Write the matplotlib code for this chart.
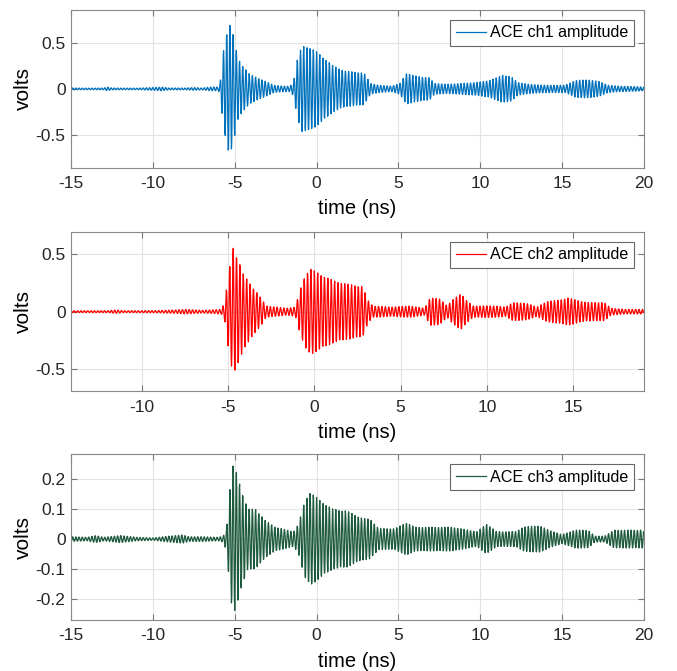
import numpy as np
import matplotlib
matplotlib.use('Agg')
import matplotlib.pyplot as plt

plt.rcParams['font.family'] = ['Liberation Sans', 'DejaVu Sans']
plt.rcParams['axes.unicode_minus'] = False

# envelope of each trace (time in ns, peak volts)
t1 = [-15, -14, -13, -12.8, -12.5, -11, -10, -9.5, -9, -8, -7.5, -7, -6.5, -6.0, -5.9, -5.7, -5.5, -5.35,
      -5.15, -5.0, -4.8, -4.5, -4.1, -3.6, -3.1, -2.6, -2.0, -1.6, -1.4, -1.2, -0.9, -0.5, 0.0, 0.5, 1.0,
      1.8, 2.6, 2.9, 3.3, 3.8, 4.6, 5.1, 5.5, 6.0, 6.9, 7.2, 8.0, 8.9, 9.8, 10.5, 11.0, 11.4, 11.9, 12.3,
      13, 14, 15.2, 15.8, 16.5, 17.3, 17.8, 18.5, 19.5, 20]
a1 = [0.01, 0.008, 0.01, 0.02, 0.01, 0.008, 0.015, 0.02, 0.01, 0.01, 0.015, 0.01, 0.02, 0.02, 0.06, 0.4, 0.6,
      0.72, 0.63, 0.5, 0.33, 0.25, 0.16, 0.12, 0.08, 0.04, 0.03, 0.03, 0.08, 0.3, 0.46, 0.46, 0.4, 0.33,
      0.25, 0.19, 0.18, 0.17, 0.06, 0.04, 0.03, 0.06, 0.17, 0.14, 0.12, 0.06, 0.05, 0.06, 0.07, 0.09, 0.12,
      0.15, 0.13, 0.07, 0.05, 0.04, 0.04, 0.09, 0.1, 0.08, 0.04, 0.03, 0.025, 0.02]

t2 = [-14.1, -12, -11.5, -11, -9, -8, -7.5, -6.5, -6, -5.4, -5.2, -4.95, -4.7, -4.4, -4.1, -3.5, -3.0,
      -2.8, -2.2, -1.6, -1.1, -0.8, -0.5, -0.2, 0.3, 1.1, 1.9, 2.8, 3.1, 3.4, 4.5, 5.5, 6.4, 6.7, 7.3,
      7.7, 8.0, 8.5, 8.8, 9.2, 10.5, 11.1, 11.5, 12.4, 12.9, 13.5, 14.2, 14.7, 15.2, 15.8, 16.8, 17.2,
      18, 19.1]
a2 = [0.008, 0.008, 0.015, 0.008, 0.01, 0.015, 0.02, 0.012, 0.015, 0.02, 0.08, 0.35, 0.56, 0.45, 0.32, 0.2,
      0.1, 0.05, 0.04, 0.03, 0.04, 0.2, 0.33, 0.37, 0.33, 0.27, 0.24, 0.22, 0.1, 0.05, 0.04, 0.05, 0.03,
      0.12, 0.11, 0.05, 0.1, 0.16, 0.1, 0.05, 0.05, 0.04, 0.08, 0.07, 0.04, 0.09, 0.1, 0.12, 0.1, 0.08,
      0.08, 0.03, 0.02, 0.02]

t3 = [-15, -14, -13.5, -13, -12, -11, -10, -9, -8.2, -7.8, -7, -6, -5.7, -5.5, -5.25, -5.08, -4.88, -4.5,
      -4.2, -3.7, -3.1, -2.5, -1.8, -1.4, -1.1, -0.7, -0.4, 0.2, 1.0, 1.8, 2.8, 3.3, 3.8, 4.8, 5.5, 6.0,
      7.0, 8.3, 9.3, 9.8, 10.4, 11.0, 12.2, 12.6, 13.6, 14.2, 15.0, 15.8, 16.6, 17.0, 17.6, 18.2, 19.0,
      19.8, 20]
a3 = [0.008, 0.006, 0.012, 0.006, 0.012, 0.006, 0.004, 0.01, 0.014, 0.008, 0.008, 0.006, 0.01, 0.04, 0.2,
      0.25, 0.22, 0.15, 0.1, 0.1, 0.06, 0.04, 0.03, 0.025, 0.05, 0.13, 0.157, 0.13, 0.1, 0.095, 0.07,
      0.066, 0.035, 0.035, 0.055, 0.04, 0.04, 0.04, 0.03, 0.025, 0.05, 0.025, 0.025, 0.04, 0.045, 0.03,
      0.015, 0.03, 0.03, 0.01, 0.01, 0.03, 0.03, 0.03, 0.03]

carrier_ghz = 5.1  # oscillation rate seen in the bursts

labels = ['ACE ch1 amplitude', 'ACE ch2 amplitude', 'ACE ch3 amplitude']
colors = ['#0072BD', '#FF0000', '#1E5A3E']
xlims = [(-15, 20), (-14.1, 19.1), (-15, 20)]
ylims = [(-0.85, 0.85), (-0.69, 0.69), (-0.27, 0.283)]
yticks = [[-0.5, 0, 0.5], [-0.5, 0, 0.5], [-0.2, -0.1, 0, 0.1, 0.2]]
boxes = [[0.105, 0.750, 0.846, 0.235], [0.105, 0.417, 0.846, 0.237], [0.105, 0.076, 0.846, 0.247]]

fig = plt.figure(figsize=(6.77, 6.71), dpi=100)
for i, (tt, aa) in enumerate([(t1, a1), (t2, a2), (t3, a3)]):
    ax = fig.add_axes(boxes[i])
    t = np.arange(tt[0], tt[-1], 0.02)
    v = np.interp(t, tt, aa) * np.cos(2 * np.pi * carrier_ghz * t)
    ax.plot(t, v, color=colors[i], lw=0.9, label=labels[i])
    ax.set_xlim(xlims[i])
    ax.set_ylim(ylims[i])
    ax.set_yticks(yticks[i])
    ax.set_yticklabels(['%g' % y for y in yticks[i]])
    ax.grid(True, color='#e3e3e3', lw=0.8)
    ax.set_axisbelow(True)
    ax.tick_params(direction='in', top=True, right=True, labelsize=12.5, labelcolor='#262626',
                   color='#777777', length=4)
    ax.tick_params(axis='x', pad=6)
    ax.tick_params(axis='y', pad=4)
    for s in ax.spines.values():
        s.set_color('#888888')
    ax.set_xlabel('time (ns)', fontsize=14.5, labelpad=6)
    ax.set_ylabel('volts', fontsize=15)
    ax.yaxis.set_label_coords(-0.066, 0.5)
    leg = ax.legend(loc='upper right', fontsize=11.6, fancybox=False, framealpha=1,
                    edgecolor='#666666', handlelength=1.9, handletextpad=0.25,
                    borderpad=0.35, borderaxespad=0.6)
    leg.get_frame().set_linewidth(0.8)

fig.savefig('out.png', dpi=100)
